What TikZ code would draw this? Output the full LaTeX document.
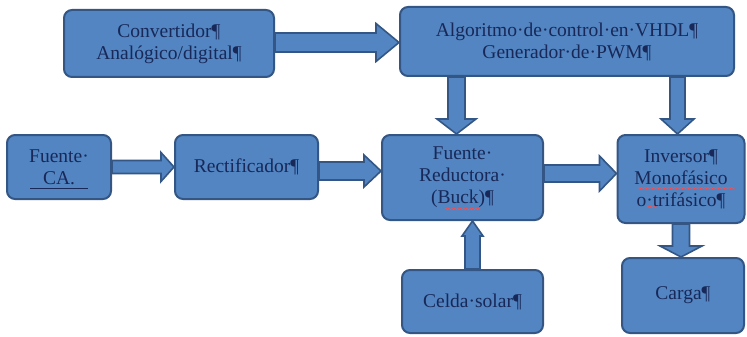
\documentclass[tikz,border=0pt]{standalone}
\usepackage{fontspec}
\setmainfont{Liberation Serif}
\usepackage{tikz}
\usetikzlibrary{calc, decorations.pathmorphing}

\definecolor{relleno}{RGB}{82,133,193}
\definecolor{borde}{RGB}{52,86,132}
\definecolor{texto}{RGB}{24,40,88}

\tikzset{
  caja/.style={draw=borde, fill=relleno, line width=2pt, rounded corners=8pt,
    text=texto, align=center, inner sep=0pt,
    font=\fontsize{19.5}{22}\selectfont},
  bloque/.style={draw=borde, fill=relleno, line width=1.6pt, line join=miter},
  subrayado/.style={draw=red!70!white, line width=0.7pt,
    decorate, decoration={snake, amplitude=0.7pt, segment length=3pt}}
}

% flecha de bloque horizontal: origen, destino, medio ancho, medio ancho punta, largo punta
\newcommand{\flechaH}[5]{%
  \draw[bloque] ($(#1)+(0,{-(#3)})$) -- ($(#2)+({-(#5)},{-(#3)})$)
    -- ($(#2)+({-(#5)},{-(#4)})$) -- (#2) -- ($(#2)+({-(#5)},{#4})$)
    -- ($(#2)+({-(#5)},{#3})$) -- ($(#1)+(0,{#3})$) -- cycle;}
% flecha de bloque vertical (largo negativo = hacia arriba)
\newcommand{\flechaV}[5]{%
  \draw[bloque] ($(#1)+({-(#3)},0)$) -- ($(#2)+({-(#3)},{-(#5)})$)
    -- ($(#2)+({-(#4)},{-(#5)})$) -- (#2) -- ($(#2)+({#4},{-(#5)})$)
    -- ($(#2)+({#3},{-(#5)})$) -- ($(#1)+({#3},0)$) -- cycle;}

\begin{document}
\begin{tikzpicture}[x=1pt, y=-1pt]

\useasboundingbox (0,0) rectangle (747,337);

% Bloques
\node[caja, minimum width=210pt, minimum height=67pt] (conv) at (169,43.5)
  {Convertidor¶\\Analógico/digital¶};
\node[caja, minimum width=334pt, minimum height=69pt] (alg) at (567,41.5)
  {Algoritmo·de·control·en·VHDL¶\\Generador·de·PWM¶};
\node[caja, minimum width=104pt, minimum height=64pt] (fca) at (59,167)
  {Fuente·\\CA.};
\node[caja, minimum width=143pt, minimum height=64pt] (rect) at (246.5,167)
  {Rectificador¶};
\node[caja, minimum width=161pt, minimum height=85pt] (buck) at (462.5,177.5)
  {Fuente·\\Reductora·\\(Buck)¶};
\node[caja, minimum width=127pt, minimum height=88pt] (inv) at (681,179)
  {Inversor¶\\Monofásico\\o·trifásico¶};
\node[caja, minimum width=141pt, minimum height=63pt] (celda) at (472.5,301.5)
  {Celda·solar¶};
\node[caja, minimum width=122pt, minimum height=75pt] (carga) at (683,295.5)
  {Carga¶};

% Extremos de las flechas
\coordinate (a1) at ([yshift=1pt]conv.east);
\coordinate (b1) at (alg.west |- a1);
\coordinate (a3) at ([yshift=-4pt]rect.east);
\coordinate (b3) at (buck.west |- a3);
\coordinate (a4) at ([yshift=4pt]buck.east);
\coordinate (b4) at (inv.west |- a4);
\coordinate (b5) at ([xshift=-6pt]buck.north);
\coordinate (a5) at (b5 |- alg.south);
\coordinate (b6) at ([xshift=-3.5pt]inv.north);
\coordinate (a6) at (b6 |- alg.south);
\coordinate (b7) at (celda.north |- buck.south);
\coordinate (b8) at (inv.south |- carga.north);

% Flechas horizontales
\flechaH{a1}{b1}{9.5}{19}{23}
\flechaH{fca.east}{rect.west}{6.5}{14.5}{13}
\flechaH{a3}{b3}{9}{16}{17}
\flechaH{a4}{b4}{8.5}{17.5}{17}

% Flechas verticales
\flechaV{a5}{b5}{8.5}{19.5}{15}
\flechaV{a6}{b6}{7.5}{16.5}{15}
\flechaV{celda.north}{b7}{7.5}{10.5}{-15}
\flechaV{inv.south}{b8}{8.5}{21}{11}

% Marcas de ortografía
\draw[texto, line width=0.8pt] (30,188) -- (88,188);
\draw[subrayado] (445,209) -- (480,209);
\draw[subrayado] (638,188) -- (735,188);
\draw[subrayado] (647,207) -- (657,207);

\end{tikzpicture}
\end{document}
